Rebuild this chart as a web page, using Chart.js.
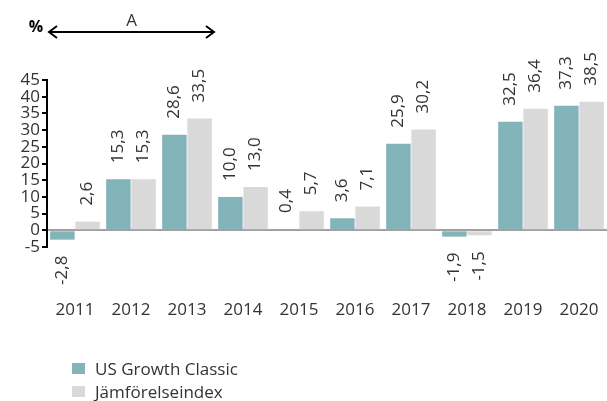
<!DOCTYPE html>
<html><head><meta charset="utf-8">
<script src="https://cdn.jsdelivr.net/npm/chart.js@4/dist/chart.umd.min.js"></script>
<style>html,body{margin:0;padding:0;background:#fff}#wrap{width:607px;height:401px;position:relative}</style>
</head><body><div id="wrap"><canvas id="c" width="607" height="401"></canvas></div>
<script>
const years = ['2011','2012','2013','2014','2015','2016','2017','2018','2019','2020'];
const fundValues = [-2.8, 15.3, 28.6, 10.0, 0.4, 3.6, 25.9, -1.9, 32.5, 37.3];
const indexValues = [2.6, 15.3, 33.5, 13.0, 5.7, 7.1, 30.2, -1.5, 36.4, 38.5];
const seriesNames = ['US Growth Classic', 'Jämförelseindex'];
const periodLabel = 'A';
const unitLabel = '%';

const FONT = "'Open Sans', 'Noto Sans', sans-serif";
const TXT = '#333333';
const TEAL = '#82b4ba';
const GRAY = '#d9d9d9';
const FS = 17;
const fmt = v => v.toFixed(1).replace('.', ',');

const labelPlugin = {
  id: 'labels',
  afterDatasetsDraw(chart) {
    const ctx = chart.ctx;
    ctx.save();
    ctx.font = FS + 'px ' + FONT;
    ctx.fillStyle = TXT;
    ctx.textBaseline = 'middle';
    chart.data.datasets.forEach((ds, di) => {
      chart.getDatasetMeta(di).data.forEach((bar, i) => {
        const v = ds.data[i];
        ctx.save();
        if (v >= 0) {
          ctx.translate(bar.x, bar.y - 16);
          ctx.rotate(-Math.PI / 2);
          ctx.textAlign = 'left';
        } else {
          ctx.translate(bar.x, bar.y + 16);
          ctx.rotate(-Math.PI / 2);
          ctx.textAlign = 'right';
        }
        ctx.fillText(fmt(v), 0, 0);
        ctx.restore();
      });
    });
    ctx.restore();
  },
  afterDraw(chart) {
    const ctx = chart.ctx;
    const xs = chart.scales.x;
    ctx.save();
    // arrow
    const x1 = chart.chartArea.left + 1;
    const x2 = (xs.getPixelForValue(2) + xs.getPixelForValue(3)) / 2;
    const ay = 32;
    ctx.strokeStyle = '#000';
    ctx.fillStyle = '#000';
    ctx.lineWidth = 2;
    ctx.beginPath();
    ctx.moveTo(x1 + 2, ay); ctx.lineTo(x2 - 2, ay); ctx.stroke();
    ctx.beginPath();
    ctx.moveTo(x1 + 9, ay - 6); ctx.lineTo(x1 + 1, ay); ctx.lineTo(x1 + 9, ay + 6); ctx.stroke();
    ctx.beginPath();
    ctx.moveTo(x2 - 9, ay - 6); ctx.lineTo(x2 - 1, ay); ctx.lineTo(x2 - 9, ay + 6); ctx.stroke();
    ctx.font = FS + 'px ' + FONT;
    ctx.fillStyle = TXT;
    ctx.textAlign = 'center';
    ctx.textBaseline = 'middle';
    ctx.fillText(periodLabel, (x1 + x2) / 2, 21);
    ctx.font = 'bold 16px ' + FONT;
    ctx.fillStyle = '#000';
    ctx.fillText(unitLabel, 36, 27);
    // legend
    ctx.font = FS + 'px ' + FONT;
    ctx.textAlign = 'left';
    chart.data.datasets.forEach((ds, i) => {
      const y = 369 + i * 23;
      ctx.fillStyle = ds.backgroundColor;
      ctx.fillRect(72, y - 6, 13, 11);
      ctx.fillStyle = TXT;
      ctx.fillText(ds.label, 95, y + 1);
    });
    ctx.restore();
  }
};

new Chart(document.getElementById('c'), {
  type: 'bar',
  data: {
    labels: years,
    datasets: [
      { label: seriesNames[0], data: fundValues, backgroundColor: TEAL, borderWidth: 0 },
      { label: seriesNames[1], data: indexValues, backgroundColor: GRAY, borderWidth: 0 }
    ]
  },
  options: {
    responsive: false,
    animation: false,
    events: [],
    layout: { padding: { top: 80, left: 0, right: 0, bottom: 0 } },
    datasets: { bar: { categoryPercentage: 0.9, barPercentage: 0.97 } },
    plugins: { legend: { display: false }, tooltip: { enabled: false } },
    scales: {
      x: {
        grid: { display: false },
        border: { display: false },
        ticks: { color: TXT, font: { family: FONT, size: FS }, padding: 45, maxRotation: 0 },
        afterFit(s) { s.height = 154; s.paddingLeft = 0; s.paddingRight = 0; }
      },
      y: {
        min: -5, max: 45,
        ticks: { stepSize: 5, color: TXT, font: { family: FONT, size: FS }, padding: 2, autoSkip: false },
        grid: {
          color: c => (c.tick && c.tick.value === 0) ? '#a0a0a0' : 'rgba(0,0,0,0)',
          lineWidth: 2,
          tickColor: '#000',
          tickLength: 5,
          drawTicks: true
        },
        border: { display: true, color: '#000', width: 2 },
        afterFit(s) { s.width = 47; s.paddingTop = 0; s.paddingBottom = 0; }
      }
    }
  },
  plugins: [labelPlugin]
});
</script>
</body></html>
